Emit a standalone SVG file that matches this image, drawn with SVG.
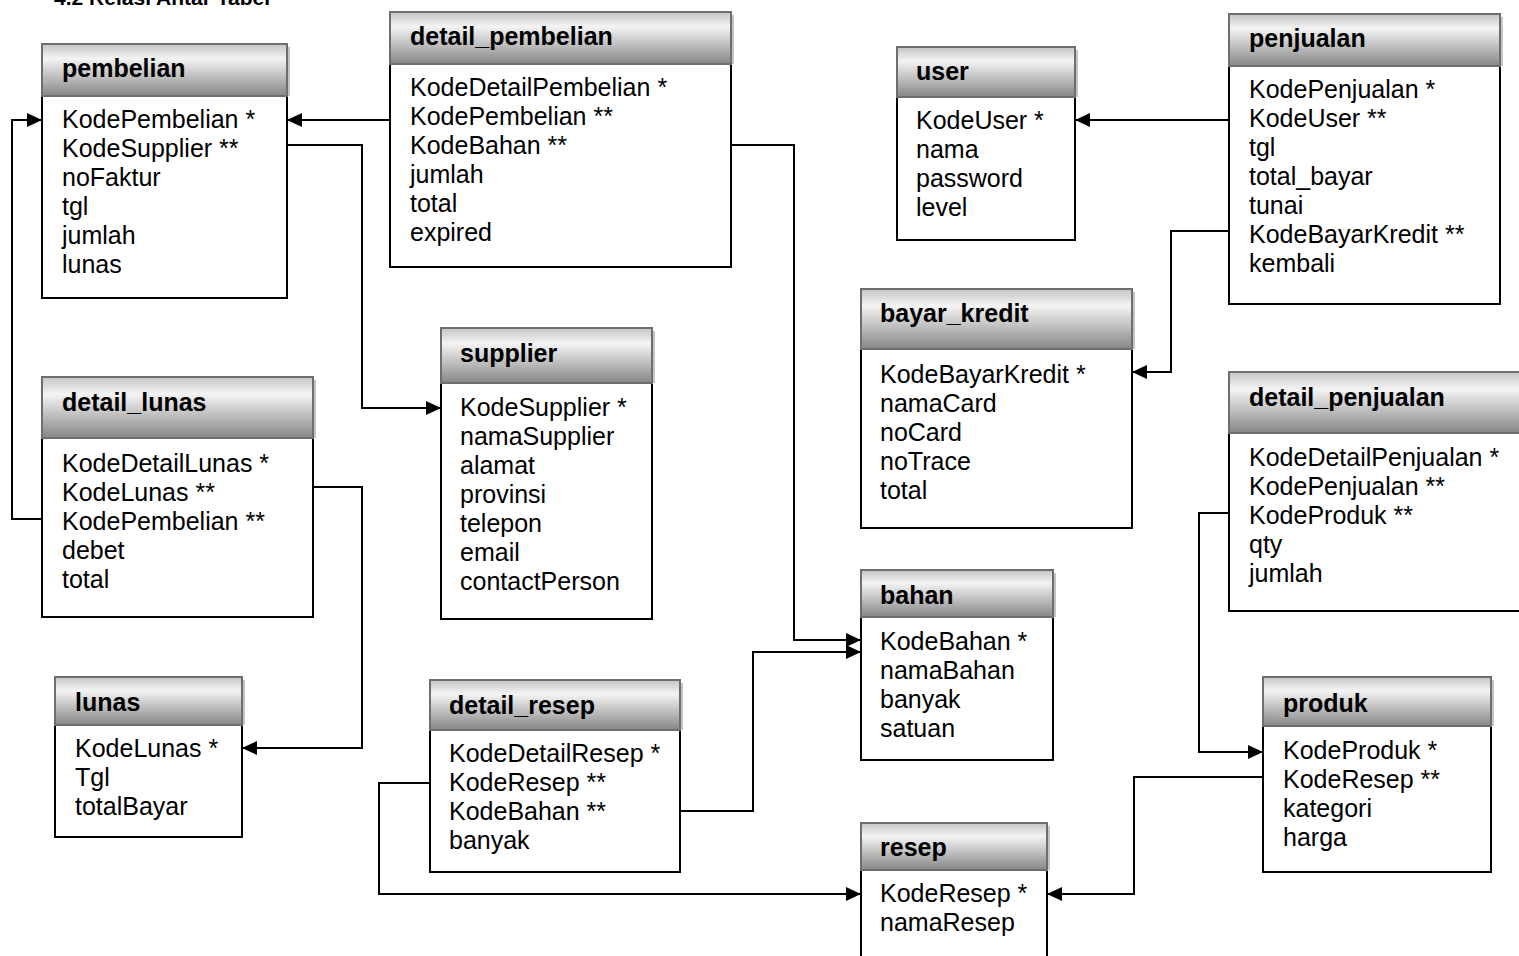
<svg xmlns="http://www.w3.org/2000/svg" width="1519" height="956" viewBox="0 0 1519 956">
<defs>
<linearGradient id="hg" x1="0" y1="0" x2="0" y2="1">
<stop offset="0" stop-color="#c4c4c4"/>
<stop offset="0.28" stop-color="#f4f4f4"/>
<stop offset="1" stop-color="#868686"/>
</linearGradient>
<marker id="ar" markerUnits="userSpaceOnUse" markerWidth="16" markerHeight="14" refX="15" refY="7" orient="auto">
<path d="M0,0 L15,7 L0,14 Z" fill="#000"/>
</marker>
<style>
.hd{fill:url(#hg);stroke:#6e6e6e;stroke-width:2}
.sh{fill:#c4c4c4}
.bd{fill:#fff;stroke:#000;stroke-width:2}
.ht{font-family:"Liberation Sans",Arial,sans-serif;font-weight:bold;font-size:25px;fill:#000}
.rt{font-family:"Liberation Sans",Arial,sans-serif;font-size:25px;fill:#000}
.cn{fill:none;stroke:#000;stroke-width:2;marker-end:url(#ar)}
</style>
</defs>
<rect width="1519" height="956" fill="#fff"/>
<text x="270" y="5" text-anchor="end" class="ht" style="font-size:21px">4.2 Relasi Antar Tabel</text>

<g id="pembelian">
<rect class="bd" x="42" y="96" width="245" height="202"/>
<rect class="sh" x="287" y="47" width="3" height="49"/>
<rect class="hd" x="42" y="44" width="245" height="52"/>
<text class="ht" x="62" y="77">pembelian</text>
<text class="rt"><tspan x="62" y="128">KodePembelian *</tspan><tspan x="62" dy="29">KodeSupplier **</tspan><tspan x="62" dy="29">noFaktur</tspan><tspan x="62" dy="29">tgl</tspan><tspan x="62" dy="29">jumlah</tspan><tspan x="62" dy="29">lunas</tspan></text>
</g>

<g id="detail_pembelian">
<rect class="bd" x="390" y="64" width="341" height="203"/>
<rect class="sh" x="731" y="15" width="3" height="49"/>
<rect class="hd" x="390" y="12" width="341" height="52"/>
<text class="ht" x="410" y="45">detail_pembelian</text>
<text class="rt"><tspan x="410" y="96">KodeDetailPembelian *</tspan><tspan x="410" dy="29">KodePembelian **</tspan><tspan x="410" dy="29">KodeBahan **</tspan><tspan x="410" dy="29">jumlah</tspan><tspan x="410" dy="29">total</tspan><tspan x="410" dy="29">expired</tspan></text>
</g>

<g id="user">
<rect class="bd" x="897" y="97" width="178" height="143"/>
<rect class="sh" x="1075" y="50" width="3" height="47"/>
<rect class="hd" x="897" y="47" width="178" height="50"/>
<text class="ht" x="916" y="80">user</text>
<text class="rt"><tspan x="916" y="129">KodeUser *</tspan><tspan x="916" dy="29">nama</tspan><tspan x="916" dy="29">password</tspan><tspan x="916" dy="29">level</tspan></text>
</g>

<g id="penjualan">
<rect class="bd" x="1229" y="66" width="271" height="238"/>
<rect class="sh" x="1500" y="17" width="3" height="49"/>
<rect class="hd" x="1229" y="14" width="271" height="52"/>
<text class="ht" x="1249" y="47">penjualan</text>
<text class="rt"><tspan x="1249" y="98">KodePenjualan *</tspan><tspan x="1249" dy="29">KodeUser **</tspan><tspan x="1249" dy="29">tgl</tspan><tspan x="1249" dy="29">total_bayar</tspan><tspan x="1249" dy="29">tunai</tspan><tspan x="1249" dy="29">KodeBayarKredit **</tspan><tspan x="1249" dy="29">kembali</tspan></text>
</g>

<g id="detail_lunas">
<rect class="bd" x="42" y="438" width="271" height="179"/>
<rect class="sh" x="313" y="380" width="3" height="58"/>
<rect class="hd" x="42" y="377" width="271" height="61"/>
<text class="ht" x="62" y="411">detail_lunas</text>
<text class="rt"><tspan x="62" y="472">KodeDetailLunas *</tspan><tspan x="62" dy="29">KodeLunas **</tspan><tspan x="62" dy="29">KodePembelian **</tspan><tspan x="62" dy="29">debet</tspan><tspan x="62" dy="29">total</tspan></text>
</g>

<g id="supplier">
<rect class="bd" x="441" y="383" width="211" height="236"/>
<rect class="sh" x="652" y="331" width="3" height="52"/>
<rect class="hd" x="441" y="328" width="211" height="55"/>
<text class="ht" x="460" y="362">supplier</text>
<text class="rt"><tspan x="460" y="416">KodeSupplier *</tspan><tspan x="460" dy="29">namaSupplier</tspan><tspan x="460" dy="29">alamat</tspan><tspan x="460" dy="29">provinsi</tspan><tspan x="460" dy="29">telepon</tspan><tspan x="460" dy="29">email</tspan><tspan x="460" dy="29">contactPerson</tspan></text>
</g>

<g id="bayar_kredit">
<rect class="bd" x="861" y="349" width="271" height="179"/>
<rect class="sh" x="1132" y="292" width="3" height="57"/>
<rect class="hd" x="861" y="289" width="271" height="60"/>
<text class="ht" x="880" y="322">bayar_kredit</text>
<text class="rt"><tspan x="880" y="383">KodeBayarKredit *</tspan><tspan x="880" dy="29">namaCard</tspan><tspan x="880" dy="29">noCard</tspan><tspan x="880" dy="29">noTrace</tspan><tspan x="880" dy="29">total</tspan></text>
</g>

<g id="detail_penjualan">
<rect class="bd" x="1229" y="433" width="300" height="178"/>
<rect class="hd" x="1229" y="372" width="300" height="61"/>
<text class="ht" x="1249" y="406">detail_penjualan</text>
<text class="rt"><tspan x="1249" y="466">KodeDetailPenjualan *</tspan><tspan x="1249" dy="29">KodePenjualan **</tspan><tspan x="1249" dy="29">KodeProduk **</tspan><tspan x="1249" dy="29">qty</tspan><tspan x="1249" dy="29">jumlah</tspan></text>
</g>

<g id="bahan">
<rect class="bd" x="861" y="617" width="192" height="143"/>
<rect class="sh" x="1053" y="573" width="3" height="44"/>
<rect class="hd" x="861" y="570" width="192" height="47"/>
<text class="ht" x="880" y="604">bahan</text>
<text class="rt"><tspan x="880" y="650">KodeBahan *</tspan><tspan x="880" dy="29">namaBahan</tspan><tspan x="880" dy="29">banyak</tspan><tspan x="880" dy="29">satuan</tspan></text>
</g>

<g id="lunas">
<rect class="bd" x="55" y="725" width="187" height="112"/>
<rect class="sh" x="242" y="680" width="3" height="45"/>
<rect class="hd" x="55" y="677" width="187" height="48"/>
<text class="ht" x="75" y="711">lunas</text>
<text class="rt"><tspan x="75" y="757">KodeLunas *</tspan><tspan x="75" dy="29">Tgl</tspan><tspan x="75" dy="29">totalBayar</tspan></text>
</g>

<g id="detail_resep">
<rect class="bd" x="430" y="730" width="250" height="142"/>
<rect class="sh" x="680" y="683" width="3" height="47"/>
<rect class="hd" x="430" y="680" width="250" height="50"/>
<text class="ht" x="449" y="714">detail_resep</text>
<text class="rt"><tspan x="449" y="762">KodeDetailResep *</tspan><tspan x="449" dy="29">KodeResep **</tspan><tspan x="449" dy="29">KodeBahan **</tspan><tspan x="449" dy="29">banyak</tspan></text>
</g>

<g id="produk">
<rect class="bd" x="1263" y="726" width="228" height="146"/>
<rect class="sh" x="1491" y="680" width="3" height="46"/>
<rect class="hd" x="1263" y="677" width="228" height="49"/>
<text class="ht" x="1283" y="712">produk</text>
<text class="rt"><tspan x="1283" y="759">KodeProduk *</tspan><tspan x="1283" dy="29">KodeResep **</tspan><tspan x="1283" dy="29">kategori</tspan><tspan x="1283" dy="29">harga</tspan></text>
</g>

<g id="resep">
<rect class="bd" x="861" y="870" width="186" height="100"/>
<rect class="sh" x="1047" y="826" width="3" height="44"/>
<rect class="hd" x="861" y="823" width="186" height="47"/>
<text class="ht" x="880" y="856">resep</text>
<text class="rt"><tspan x="880" y="902">KodeResep *</tspan><tspan x="880" dy="29">namaResep</tspan></text>
</g>

<g id="connectors">
<path class="cn" d="M390,120 H287"/>
<path class="cn" d="M287,145 H362 V408 H441"/>
<path class="cn" d="M42,519 H12 V120 H42"/>
<path class="cn" d="M313,487 H362 V748 H242"/>
<path class="cn" d="M731,145 H794 V640 H861"/>
<path class="cn" d="M680,811 H753 V652 H861"/>
<path class="cn" d="M430,783 H379 V894 H861"/>
<path class="cn" d="M1229,120 H1075"/>
<path class="cn" d="M1229,231 H1171 V372 H1132"/>
<path class="cn" d="M1229,513 H1199 V752 H1263"/>
<path class="cn" d="M1263,777 H1134 V894 H1047"/>
</g>
</svg>
